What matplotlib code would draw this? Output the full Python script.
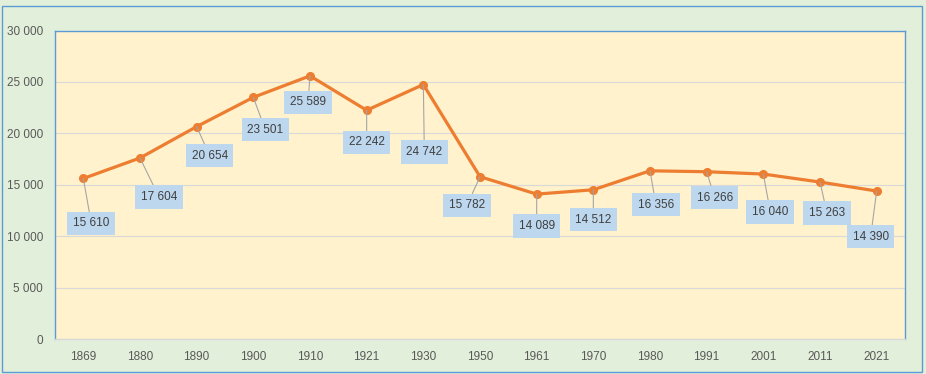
import matplotlib
matplotlib.use("Agg")
import matplotlib.pyplot as plt
from matplotlib.patches import Rectangle

years = ["1869", "1880", "1890", "1900", "1910", "1921", "1930", "1950",
         "1961", "1970", "1980", "1991", "2001", "2011", "2021"]
population = [15610, 17604, 20654, 23501, 25589, 22242, 24742, 15782,
              14089, 14512, 16356, 16266, 16040, 15263, 14390]
y_ticks = [0, 5000, 10000, 15000, 20000, 25000, 30000]

# label offsets in pixels (dx right, dy down) from each point
label_offsets_px = [(8, 45), (19, 39), (13, 29), (12, 32.5), (-2, 26.5),
                    (0, 32), (1, 67.5), (-13, 28.5), (0, 32), (0, 30),
                    (6, 34), (8, 26), (7, 38), (7, 31), (-6, 45.5)]

def fmt(v):
    return f"{v:,}".replace(",", " ")

plt.rcParams['font.family'] = ['Liberation Sans', 'DejaVu Sans']

W, H = 926, 374
fig = plt.figure(figsize=(W / 100, H / 100), dpi=100)
fig.patch.set_facecolor("#E2EFDA")
fig.patches.append(Rectangle((2 / W, 2 / H), 920 / W, 366 / H, transform=fig.transFigure,
                             fill=False, edgecolor="#5B9BD5", lw=1.0))

ax = fig.add_axes([55 / W, 1 - 339 / H, 850 / W, 308.5 / H])
ax.set_facecolor("#FFF2CC")

x = list(range(len(years)))
ax.plot(x, population, color="#ED7D31", lw=2.3, marker="o", ms=5.5, zorder=4)

ax.set_xlim(-0.5, len(years) - 0.5)
ax.set_ylim(0, 30000)
ax.set_yticks(y_ticks)
ax.set_yticklabels([fmt(v) for v in y_ticks])
ax.set_xticks(x)
ax.set_xticklabels(years)
ax.tick_params(axis="both", length=0, labelsize=8.5, labelcolor="#595959")
ax.tick_params(axis="y", pad=8.5)
ax.tick_params(axis="x", pad=8.5)
ax.grid(axis="y", color="#D9D9D9", lw=0.8)
ax.set_axisbelow(True)

for side in ["left", "right", "top"]:
    ax.spines[side].set_color("#5B9BD5")
    ax.spines[side].set_linewidth(1.0)
ax.spines["bottom"].set_color("#D9D9D9")
ax.spines["bottom"].set_linewidth(1.0)

for xi, v, (dx, dy) in zip(x, population, label_offsets_px):
    ax.annotate(fmt(v), xy=(xi, v), xytext=(dx * 0.72, -dy * 0.72),
                textcoords="offset points", ha="center", va="center",
                fontsize=8.5, color="#404040", zorder=5,
                bbox=dict(boxstyle="square,pad=0.48", fc="#BDD7EE", ec="none"),
                arrowprops=dict(arrowstyle="-", color="#A6A6A6", lw=0.8,
                                shrinkA=0, shrinkB=0))

fig.savefig("out.png", dpi=100, facecolor=fig.get_facecolor())
